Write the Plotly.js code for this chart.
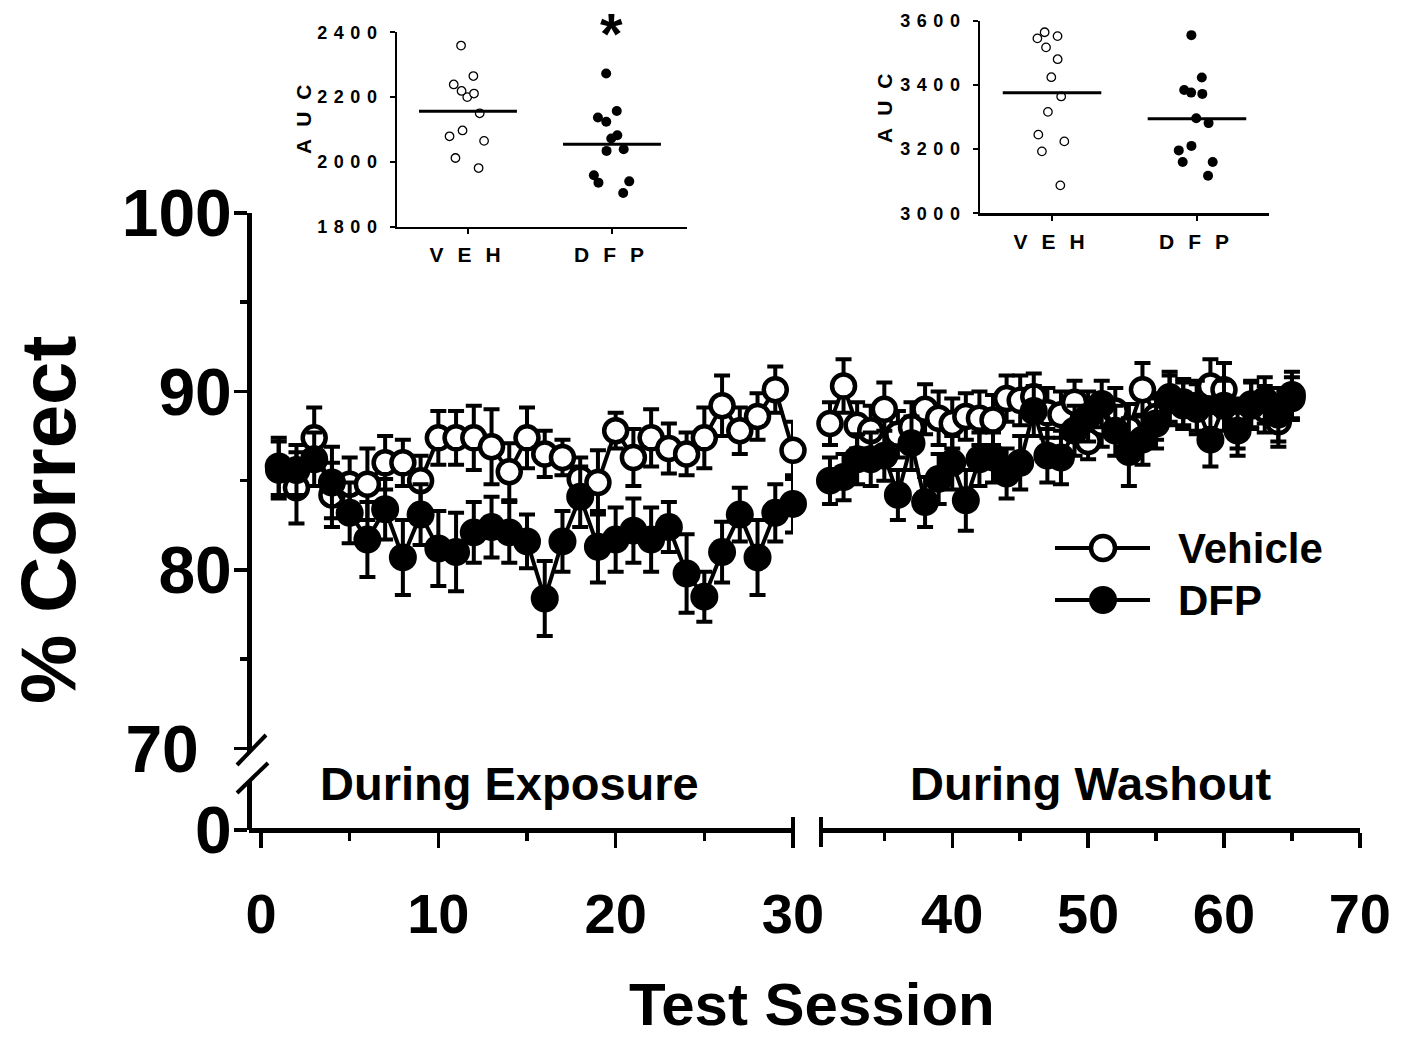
<!DOCTYPE html>
<html><head><meta charset="utf-8">
<script src="https://cdn.plot.ly/plotly-3.0.1.min.js"></script>
<style>html,body{margin:0;padding:0;background:#fff}</style>
</head><body>
<div id="chart" style="width:1401px;height:1039px"></div>
<script>
// ---------- data ----------
const sessionsExposure = [1,2,3,4,5,6,7,8,9,10,11,12,13,14,15,16,17,18,19,20,21,22,23,24,25,26,27,28,29,30];
const vehicleExposure = [85.6,84.6,87.4,84.2,84.8,84.8,86.0,86.0,85.0,87.4,87.4,87.4,86.9,85.5,87.4,86.5,86.3,85.1,84.9,87.8,86.3,87.4,86.8,86.5,87.4,89.2,87.8,88.6,90.1,86.7];
const vehicleExposureSem = [1.6,2.0,1.7,1.8,1.5,2.0,1.5,1.3,1.4,1.5,1.5,1.8,2.1,1.6,1.7,1.3,1.0,1.2,1.8,1.0,1.6,1.6,1.4,1.2,1.7,1.7,1.3,1.3,1.3,1.6];
const dfpExposure = [85.8,85.6,86.2,84.9,83.2,81.7,83.4,80.7,83.1,81.2,81.0,82.1,82.4,82.1,81.6,78.4,81.6,84.1,81.3,81.7,82.2,81.7,82.4,79.8,78.5,81.0,83.1,80.7,83.2,83.7];
const dfpExposureSem = [1.6,1.4,1.5,2.0,1.7,2.1,1.7,2.1,1.7,2.1,2.2,1.7,1.7,1.7,1.5,2.1,1.7,1.7,2.0,1.8,1.8,1.8,1.4,2.2,1.4,1.7,1.5,2.1,1.6,1.6];

const sessionsWashout = [31,32,33,34,35,36,37,38,39,40,41,42,43,44,45,46,47,48,49,50,51,52,53,54,55,56,57,58,59,60,61,62,63,64,65];
const vehicleWashout = [88.2,90.3,88.1,87.8,89.0,87.6,88.0,89.0,88.5,88.2,88.6,88.5,88.4,89.6,89.5,89.7,88.8,88.7,89.4,87.2,88.2,88.9,87.9,90.1,88.6,89.7,89.2,89.0,90.3,90.1,88.2,89.3,89.0,88.3,89.6];
const vehicleWashoutSem = [1.2,1.5,1.3,1.4,1.5,1.3,1.4,1.4,1.5,1.4,1.3,1.5,1.4,1.3,1.4,1.3,1.4,1.3,1.2,1.0,1.3,1.3,1.4,1.5,1.3,1.4,1.3,1.4,1.5,1.5,1.4,1.3,1.3,1.4,1.2];
const dfpWashout = [85.0,85.2,86.2,86.2,86.4,84.2,87.1,83.8,85.1,86.0,83.9,86.2,86.3,85.4,86.0,88.9,86.4,86.3,87.8,88.6,89.3,87.8,86.6,87.3,88.2,89.5,89.4,89.2,87.3,89.2,87.8,89.2,89.5,88.7,89.8];
const dfpWashoutSem = [1.3,1.3,1.4,1.5,1.4,1.4,1.5,1.4,1.4,1.5,1.7,1.5,1.4,1.4,1.5,1.4,1.5,1.5,1.4,1.4,1.3,1.4,1.9,1.4,1.4,1.4,1.3,1.4,1.5,1.4,1.4,1.3,1.3,1.5,1.3];

const groupLabels = ['VEH', 'DFP'];
const aucExposureVeh = [2359,2265,2239,2211,2200,2219,2150,2097,2079,2065,2012,1981];
const aucExposureDfp = [2273,2137,2124,2157,2072,2082,2034,2039,1940,1959,1936,1904];
const aucWashoutVeh = [3552,3545,3564,3517,3480,3424,3364,3316,3245,3224,3193,3087];
const aucWashoutDfp = [3555,3423,3376,3372,3384,3296,3281,3210,3196,3160,3160,3117];

const seriesNames = ['Vehicle', 'DFP'];
const phaseLabels = ['During Exposure', 'During Washout'];
const mainYTickVals = [70, 80, 90, 100];
const mainYTickText = ['70\u2002', '80', '90', '100'];

// ---------- helpers (layout only) ----------
const W = 1401, H = 1039;
const px = v => v / W;
const py = v => 1 - v / H;
const FONT = 'Liberation Sans, Arial, Helvetica, sans-serif';
const mean = a => a.reduce((s, v) => s + v, 0) / a.length;

const openMarker = {symbol: 'circle', size: 23, color: '#ffffff', line: {color: '#000', width: 4.5}};
const fillMarker = {symbol: 'circle', size: 28, color: '#000', line: {color: '#000', width: 0}};
const errStyle = {type: 'data', visible: true, color: '#000', thickness: 4, width: 8};

function seriesTrace(name, xs, ys, sem, xa, marker) {
  return {
    type: 'scatter', mode: 'lines+markers', name: name, showlegend: false,
    x: xs, y: ys, xaxis: xa, yaxis: 'y',
    line: {color: '#000', width: 4},
    marker: marker,
    error_y: Object.assign({array: sem}, errStyle),
    cliponaxis: false
  };
}

const traces = [
  seriesTrace(seriesNames[0], sessionsExposure, vehicleExposure, vehicleExposureSem, 'x', openMarker),
  seriesTrace(seriesNames[0], sessionsWashout, vehicleWashout, vehicleWashoutSem, 'x2', openMarker),
  seriesTrace(seriesNames[1], sessionsExposure, dfpExposure, dfpExposureSem, 'x', fillMarker),
  seriesTrace(seriesNames[1], sessionsWashout, dfpWashout, dfpWashoutSem, 'x2', fillMarker),
  // empty trace so that the lower (0) segment of the broken y axis is drawn
  {type: 'scatter', mode: 'markers', x: [], y: [], xaxis: 'x', yaxis: 'y2', showlegend: false, hoverinfo: 'skip'}
];

// inset strip plots
function strip(values, gi, xa, ya, filled) {
  return {
    type: 'box', y: values, x0: gi, xaxis: xa, yaxis: ya, name: groupLabels[gi],
    boxpoints: 'all', jitter: 0.62, pointpos: 0, width: 0.5,
    fillcolor: 'rgba(0,0,0,0)', line: {color: 'rgba(0,0,0,0)', width: 0},
    marker: filled ? {color: '#000', size: 10, line: {color: '#000', width: 0}}
                   : {color: '#fff', size: 8.5, line: {color: '#000', width: 1.3}},
    showlegend: false, hoveron: 'points'
  };
}
function meanLine(values, gi, xa, ya) {
  const m = mean(values);
  return {type: 'scatter', mode: 'lines', x: [gi - 0.34, gi + 0.34], y: [m, m],
    xaxis: xa, yaxis: ya, line: {color: '#000', width: 3}, showlegend: false, hoverinfo: 'y'};
}
traces.push(strip(aucExposureVeh, 0, 'x3', 'y3', false), strip(aucExposureDfp, 1, 'x3', 'y3', true),
            meanLine(aucExposureVeh, 0, 'x3', 'y3'), meanLine(aucExposureDfp, 1, 'x3', 'y3'),
            strip(aucWashoutVeh, 0, 'x4', 'y4', false), strip(aucWashoutDfp, 1, 'x4', 'y4', true),
            meanLine(aucWashoutVeh, 0, 'x4', 'y4'), meanLine(aucWashoutDfp, 1, 'x4', 'y4'));

const mainAxisCommon = {
  showline: true, linecolor: '#000', linewidth: 4.5, showgrid: false, zeroline: false,
  ticks: 'outside', tickcolor: '#000', tickwidth: 3.5, anchor: 'free'
};
const xTickFont = {family: FONT, size: 56, color: '#000', weight: 'bold'};
const yTickFont = {family: FONT, size: 66, color: '#000', weight: 'bold'};

const insetX = (dom, rng, ya) => ({
  domain: dom, range: rng, anchor: ya, showline: true, linecolor: '#000', linewidth: 2.5,
  showgrid: false, zeroline: false, ticks: 'outside', ticklen: 5, tickwidth: 2, tickcolor: '#000',
  tickmode: 'array', tickvals: [0, 1], ticktext: groupLabels,
  tickfont: {family: FONT, size: 21, color: '#000', weight: 'bold'}, ticklabelstandoff: 3
});
const insetY = (dom, rng, xa) => ({
  domain: dom, range: rng, anchor: xa, showline: true, linecolor: '#000', linewidth: 2.5,
  showgrid: false, zeroline: false, ticks: 'outside', ticklen: 5, tickwidth: 2, tickcolor: '#000',
  dtick: 200, tickfont: {family: FONT, size: 18, color: '#000', weight: 'bold'}, ticklabelstandoff: 9
});

const layout = {
  width: W, height: H, margin: {l: 0, r: 0, t: 0, b: 0},
  paper_bgcolor: '#fff', plot_bgcolor: 'rgba(0,0,0,0)', showlegend: false,
  font: {family: FONT, color: '#000'},
  xaxis: Object.assign({}, mainAxisCommon, {
    domain: [px(249), px(793)], range: [-0.677, 30], position: py(830),
    tickmode: 'linear', tick0: 0, dtick: 10, ticklen: 15, ticklabelstandoff: 18, tickfont: xTickFont,
    minor: {tick0: 0, dtick: 5, ticks: 'outside', ticklen: 8, tickwidth: 3.5, tickcolor: '#000', showgrid: false}
  }),
  xaxis2: Object.assign({}, mainAxisCommon, {
    domain: [px(821), px(1360)], range: [30.34, 70.01], position: py(830),
    tickmode: 'linear', tick0: 0, dtick: 10, ticklen: 15, ticklabelstandoff: 18, tickfont: xTickFont,
    minor: {tick0: 0, dtick: 5, ticks: 'outside', ticklen: 8, tickwidth: 3.5, tickcolor: '#000', showgrid: false}
  }),
  yaxis: Object.assign({}, mainAxisCommon, {
    domain: [py(752), py(212.6)], range: [69.8, 100.02], position: px(249),
    tickmode: 'array', tickvals: mainYTickVals, ticktext: mainYTickText, ticklen: 13, ticklabelstandoff: -11,
    tickfont: yTickFont,
    minor: {tickmode: 'linear', tick0: 75, dtick: 10, ticks: 'outside', ticklen: 7, tickwidth: 3.5, tickcolor: '#000', showgrid: false}
  }),
  yaxis2: Object.assign({}, mainAxisCommon, {
    domain: [py(830), py(781)], range: [0, 1], position: px(249),
    tickmode: 'array', tickvals: [0], ticktext: ['0'], ticklen: 13, ticklabelstandoff: -11, tickfont: yTickFont
  }),
  xaxis3: insetX([px(397), px(687)], [-0.493, 1.521], 'y3'),
  yaxis3: insetY([py(226.7), py(32.3)], [1800, 2400], 'x3'),
  xaxis4: insetX([px(980), px(1269)], [-0.497, 1.497], 'y4'),
  yaxis4: insetY([py(213.3), py(20.7)], [3000, 3600], 'x4'),
  annotations: [
    {xref: 'paper', yref: 'paper', x: px(48), y: py(520), text: '% Correct', textangle: -90, showarrow: false,
     xanchor: 'center', yanchor: 'middle', font: {family: FONT, size: 78, color: '#000', weight: 'bold'}},
    {xref: 'paper', yref: 'paper', x: px(812), y: py(1004), text: 'Test Session', showarrow: false,
     xanchor: 'center', yanchor: 'middle', font: {family: FONT, size: 60, color: '#000', weight: 'bold'}},
    {xref: 'paper', yref: 'paper', x: px(510), y: py(783), text: phaseLabels[0], showarrow: false,
     xanchor: 'center', yanchor: 'middle', font: {family: FONT, size: 47, color: '#000', weight: 'bold'}},
    {xref: 'paper', yref: 'paper', x: px(1091), y: py(783), text: phaseLabels[1], showarrow: false,
     xanchor: 'center', yanchor: 'middle', font: {family: FONT, size: 47, color: '#000', weight: 'bold'}},
    {xref: 'x3', yref: 'paper', x: 1, y: py(34), text: '*', showarrow: false,
     xanchor: 'center', yanchor: 'middle', font: {family: FONT, size: 58, color: '#000', weight: 'bold'}},
    // inset y titles
    {xref: 'paper', yref: 'paper', x: px(303), y: py(119), text: 'AUC', textangle: -90, showarrow: false,
     xanchor: 'center', yanchor: 'middle', font: {family: FONT, size: 21, color: '#000', weight: 'bold'}},
    {xref: 'paper', yref: 'paper', x: px(885), y: py(108), text: 'AUC', textangle: -90, showarrow: false,
     xanchor: 'center', yanchor: 'middle', font: {family: FONT, size: 21, color: '#000', weight: 'bold'}},
    // legend labels
    {xref: 'paper', yref: 'paper', x: px(1176), y: py(548), text: seriesNames[0], showarrow: false,
     xanchor: 'left', yanchor: 'middle', font: {family: FONT, size: 42, color: '#000', weight: 'bold'}},
    {xref: 'paper', yref: 'paper', x: px(1176), y: py(600), text: seriesNames[1], showarrow: false,
     xanchor: 'left', yanchor: 'middle', font: {family: FONT, size: 42, color: '#000', weight: 'bold'}}
  ],
  shapes: [
    // y-axis break marks
    {type: 'line', xref: 'paper', yref: 'paper', x0: px(237), y0: py(765), x1: px(266), y1: py(735), line: {color: '#000', width: 4}},
    {type: 'line', xref: 'paper', yref: 'paper', x0: px(237), y0: py(793), x1: px(268), y1: py(763), line: {color: '#000', width: 4}},
    // x-axis break marks
    {type: 'line', xref: 'paper', yref: 'paper', x0: px(793), y0: py(817), x1: px(793), y1: py(847), line: {color: '#000', width: 4}},
    {type: 'line', xref: 'paper', yref: 'paper', x0: px(821), y0: py(817), x1: px(821), y1: py(847), line: {color: '#000', width: 4}},
    // legend keys
    {type: 'line', xref: 'paper', yref: 'paper', x0: px(1055), y0: py(548), x1: px(1150), y1: py(548), line: {color: '#000', width: 4}},
    {type: 'circle', xref: 'paper', yref: 'paper', x0: px(1103 - 12), x1: px(1103 + 12), y0: py(548 + 12), y1: py(548 - 12), fillcolor: '#fff', line: {color: '#000', width: 4.5}},
    {type: 'line', xref: 'paper', yref: 'paper', x0: px(1055), y0: py(600), x1: px(1150), y1: py(600), line: {color: '#000', width: 4}},
    {type: 'circle', xref: 'paper', yref: 'paper', x0: px(1103 - 14), x1: px(1103 + 14), y0: py(600 + 14), y1: py(600 - 14), fillcolor: '#000', line: {color: '#000', width: 0}}
  ]
};

Plotly.newPlot('chart', traces, layout, {displayModeBar: false, staticPlot: true}).then(function () {
  function spaced(nodes, ls, shift) {
    nodes.forEach(function (t) {
      t.style.letterSpacing = ls + 'px';
      t.setAttribute('dx', shift);
    });
  }
  spaced(document.querySelectorAll('.x3tick text, .x4tick text'), 14, 4);
  spaced(document.querySelectorAll('.y3tick text, .y4tick text'), 6.5, 6.5);
  const aucTexts = Array.from(document.querySelectorAll('.annotation-text')).filter(t => t.textContent === 'AUC');
  spaced(aucTexts, 12, 6);
});
</script>
</body></html>
